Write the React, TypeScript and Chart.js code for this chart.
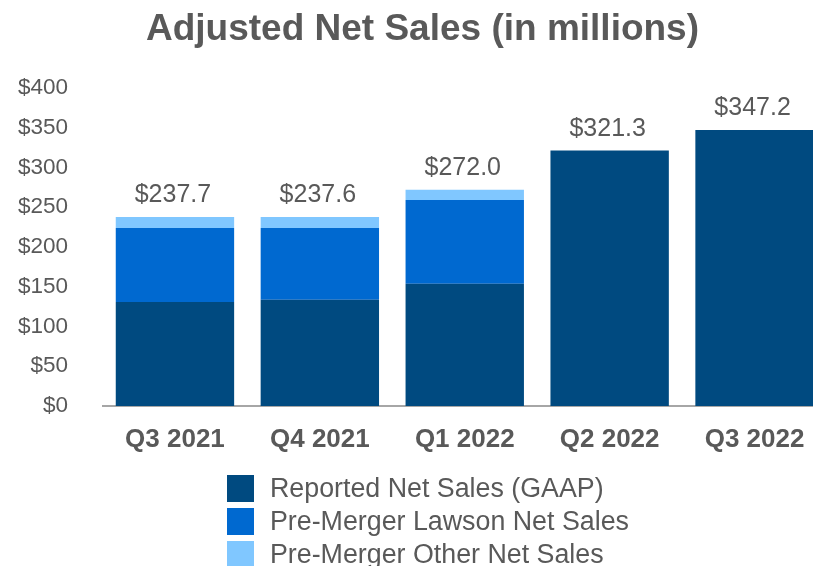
import React, { useEffect, useRef } from "react";
import { Chart, registerables } from "chart.js";

Chart.register(...registerables);

const categories = ["Q3 2021", "Q4 2021", "Q1 2022", "Q2 2022", "Q3 2022"];
const reportedNetSales = [130.7, 133.7, 153.8, 321.3, 347.2];
const lawsonNetSales = [93.2, 90.2, 105.2, 0, 0];
const otherNetSales = [13.8, 13.7, 13.0, 0, 0];
const seriesNames = [
  "Reported Net Sales (GAAP)",
  "Pre-Merger Lawson Net Sales",
  "Pre-Merger Other Net Sales",
];
const seriesColors = ["#004A80", "#0069D0", "#80C7FF"];
const yTicks = [0, 50, 100, 150, 200, 250, 300, 350, 400];

const TEXT = "#595959";
const FONT = "Liberation Sans, Arial, sans-serif";

const totalLabels = {
  id: "totalLabels",
  afterDatasetsDraw(chart: any) {
    const ctx = chart.ctx;
    const yScale = chart.scales.y;
    const xScale = chart.scales.x;
    ctx.save();
    ctx.font = `25px ${FONT}`;
    ctx.fillStyle = TEXT;
    ctx.textAlign = "center";
    ctx.textBaseline = "alphabetic";
    categories.forEach((_, i) => {
      const total = reportedNetSales[i] + lawsonNetSales[i] + otherNetSales[i];
      const x = xScale.getPixelForValue(i);
      const y = yScale.getPixelForValue(total);
      ctx.fillText("$" + total.toFixed(1), x - 2, y - 15);
    });
    ctx.restore();
  },
};

const listLegend = {
  id: "listLegend",
  afterDraw(chart: any) {
    const ctx = chart.ctx;
    const datasets = chart.data.datasets;
    ctx.save();
    ctx.font = `26.8px ${FONT}`;
    ctx.textAlign = "left";
    ctx.textBaseline = "middle";
    const left = 227;
    const top0 = 475;
    const rowH = 33;
    const box = 27;
    datasets.forEach((ds: any, i: number) => {
      const top = top0 + i * rowH;
      ctx.fillStyle = ds.backgroundColor;
      ctx.fillRect(left, top, box, box);
      ctx.fillStyle = TEXT;
      ctx.fillText(ds.label, left + 43, top + box / 2 + 1);
    });
    ctx.restore();
  },
};

export default function App() {
  const ref = useRef<HTMLCanvasElement | null>(null);
  useEffect(() => {
    if (!ref.current) return;
    const chart = new Chart(ref.current, {
      type: "bar",
      data: {
        labels: categories,
        datasets: [
          { label: seriesNames[0], data: reportedNetSales, backgroundColor: seriesColors[0] },
          { label: seriesNames[1], data: lawsonNetSales, backgroundColor: seriesColors[1] },
          { label: seriesNames[2], data: otherNetSales, backgroundColor: seriesColors[2] },
        ],
      },
      options: {
        responsive: false,
        animation: false,
        devicePixelRatio: 1,
        layout: { padding: { left: 18, right: 0, top: 0, bottom: 92.8 } },
        datasets: {
          bar: { barPercentage: 0.817, categoryPercentage: 1, borderWidth: 0 },
        },
        plugins: {
          legend: { display: false },
          tooltip: { enabled: false },
          title: {
            display: true,
            text: "Adjusted Net Sales (in millions)",
            color: TEXT,
            font: { family: FONT, size: 37, weight: "bold" },
            padding: { top: 8, bottom: 35.6 },
          },
        },
        scales: {
          x: {
            stacked: true,
            grid: { display: false, drawTicks: false },
            border: { display: true, color: "#A6A6A6", width: 2 },
            ticks: {
              color: TEXT,
              font: { family: FONT, size: 26, weight: "bold" },
              padding: 18,
            },
          },
          y: {
            stacked: true,
            min: 0,
            max: 400,
            grid: { display: false, drawTicks: false },
            border: { display: false },
            afterBuildTicks: (axis: any) => {
              axis.ticks = yTicks.map((v) => ({ value: v }));
            },
            afterFit: (axis: any) => {
              axis.width = 84.5;
            },
            ticks: {
              color: TEXT,
              font: { family: FONT, size: 22.5 },
              padding: 34.5,
              callback: (v: any) => "$" + v,
            },
          },
        },
      },
      plugins: [totalLabels, listLegend],
    });
    return () => chart.destroy();
  }, []);
  return (
    <div
      style={{
        position: "absolute",
        left: 0,
        top: 0,
        width: 813,
        height: 566,
        overflow: "hidden",
        background: "#fff",
      }}
    >
      <canvas ref={ref} width={827} height={566} style={{ display: "block" }} />
    </div>
  );
}
